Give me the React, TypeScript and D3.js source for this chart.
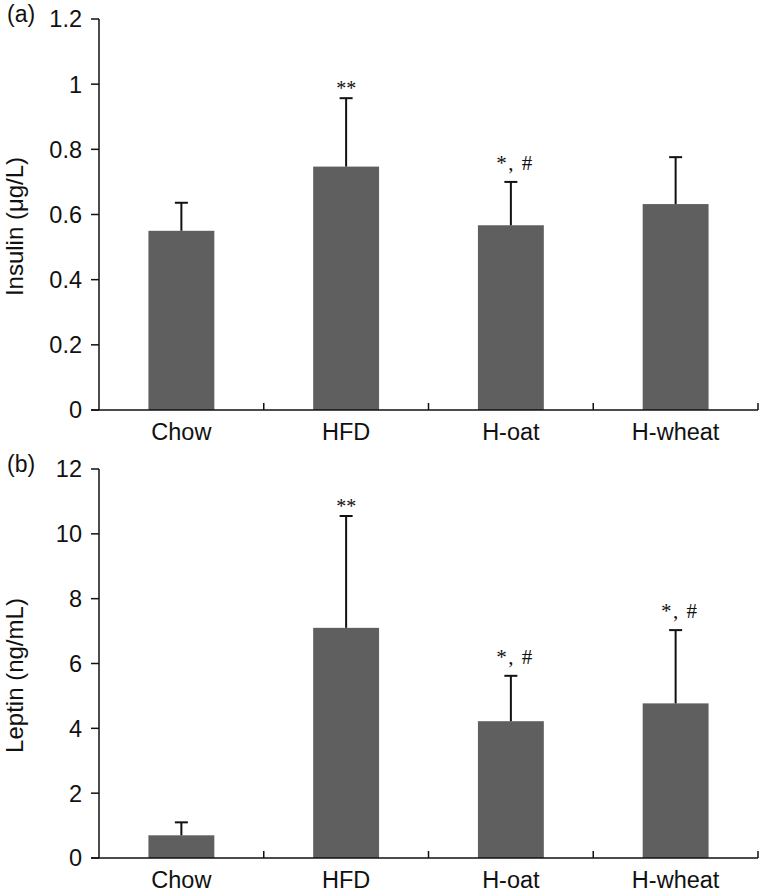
import React from 'react';
import * as d3 from 'd3';

const groups = ['Chow', 'HFD', 'H-oat', 'H-wheat'];

const insulinMean = [0.55, 0.747, 0.567, 0.632];
const insulinSd = [0.086, 0.21, 0.133, 0.144];
const insulinMarks = ['', '**', '*, #', ''];
const insulinTicks = [0, 0.2, 0.4, 0.6, 0.8, 1, 1.2];

const leptinMean = [0.7, 7.1, 4.22, 4.77];
const leptinSd = [0.4, 3.45, 1.4, 2.26];
const leptinMarks = ['', '**', '*, #', '*, #'];
const leptinTicks = [0, 2, 4, 6, 8, 10, 12];

const SANS = '"Liberation Sans", Arial, Helvetica, sans-serif';
const SERIF = '"Liberation Serif", "Times New Roman", serif';
const BAR = '#5f5f5f';

interface PanelProps {
  tag: string;
  title: string;
  means: number[];
  sds: number[];
  marks: string[];
  ticks: number[];
  top: number;
  bottom: number;
  labelGap: number;
}

const Panel: React.FC<PanelProps> = ({ tag, title, means, sds, marks, ticks, top, bottom, labelGap }) => {
  const left = 99;
  const right = 758;
  const x = d3.scaleBand<string>().domain(groups).range([left, right]).paddingInner(0.6).paddingOuter(0.3);
  const y = d3.scaleLinear().domain([0, ticks[ticks.length - 1]]).range([bottom, top]);
  const step = x.step();
  const bounds = groups.map((_g, i) => left + step * (i + 1));
  const fmt = (v: number) => `${+v.toFixed(1)}`;

  return (
    <g>
      <text x={7} y={top + 3} fontFamily={SANS} fontSize={23} fill="#111">{tag}</text>
      {/* bars */}
      {groups.map((g, i) => (
        <rect key={g} x={x(g)} y={y(means[i])} width={x.bandwidth()} height={bottom - y(means[i])} fill={BAR} />
      ))}
      {/* error bars + significance marks */}
      {groups.map((g, i) => {
        const cx = x(g)! + x.bandwidth() / 2;
        const yt = y(means[i] + sds[i]);
        const hash = marks[i].includes('#');
        return (
          <g key={g} stroke="#111" strokeWidth={2}>
            <line x1={cx} x2={cx} y1={y(means[i])} y2={yt} />
            <line x1={cx - 6.5} x2={cx + 6.5} y1={yt} y2={yt} />
            {marks[i] && (
              <text
                x={cx + (hash ? 4 : 0)}
                y={yt - (hash ? 12 : 3)}
                textAnchor="middle"
                fontFamily={SERIF}
                fontSize={hash ? 21 : 20}
                letterSpacing={hash ? 1.5 : 0}
                fill="#111"
                stroke="none"
              >
                {marks[i]}
              </text>
            )}
          </g>
        );
      })}
      {/* axes */}
      <g stroke="#111" strokeWidth={1.5} fill="none">
        <line x1={left} x2={left} y1={top} y2={bottom} />
        <line x1={left - 8} x2={right} y1={bottom} y2={bottom} />
        {ticks.map(t => (
          <line key={t} x1={left - 8} x2={left} y1={y(t)} y2={y(t)} />
        ))}
        {bounds.map(b => (
          <line key={b} x1={b} x2={b} y1={bottom - 7} y2={bottom} />
        ))}
      </g>
      {ticks.map(t => (
        <text key={t} x={82} y={y(t)} dy="0.36em" textAnchor="end" fontFamily={SANS} fontSize={23.5} fill="#111">
          {fmt(t)}
        </text>
      ))}
      {groups.map(g => (
        <text key={g} x={x(g)! + x.bandwidth() / 2} y={bottom + labelGap} textAnchor="middle" fontFamily={SANS} fontSize={23.5} fill="#111">
          {g}
        </text>
      ))}
      <text
        transform={`translate(23,${(top + bottom) / 2 + 12}) rotate(-90)`}
        textAnchor="middle"
        fontFamily={SANS}
        fontSize={24}
        fill="#111"
      >
        {title}
      </text>
    </g>
  );
};

export default function App() {
  return (
    <svg width={767} height={893} style={{ position: 'absolute', left: 0, top: 0, background: '#fff' }}>
      <rect width={767} height={893} fill="#fff" />
      <Panel tag="(a)" title="Insulin (μg/L)" means={insulinMean} sds={insulinSd} marks={insulinMarks}
        ticks={insulinTicks} top={19} bottom={410} labelGap={30} />
      <Panel tag="(b)" title="Leptin (ng/mL)" means={leptinMean} sds={leptinSd} marks={leptinMarks}
        ticks={leptinTicks} top={469} bottom={858} labelGap={30} />
    </svg>
  );
}
